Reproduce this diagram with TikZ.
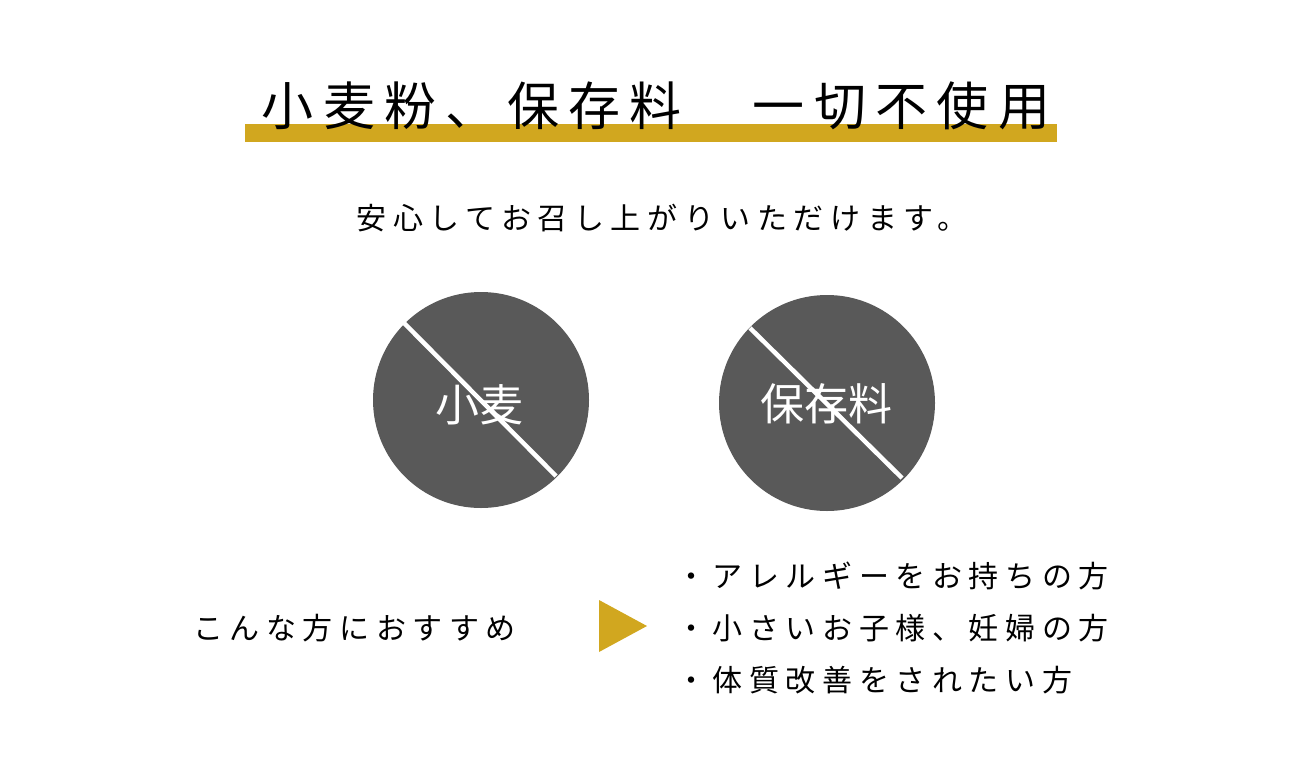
\documentclass[tikz,border=0pt]{standalone}
\usepackage{fontspec}
\usepackage{tikz}
\usetikzlibrary{positioning}
\newfontfamily\jpfont[LetterSpace=22]{Noto Sans CJK JP}
\newfontfamily\jptitle[LetterSpace=18]{Noto Sans CJK JP}
\newfontfamily\jpplain{Noto Sans CJK JP}
\definecolor{gold}{HTML}{D1A71F}
\definecolor{disc}{HTML}{595959}
\tikzset{
  banned/.style={circle, fill=disc, minimum size=216pt, inner sep=0pt},
  bantext/.style={text=white, font=\jpplain\fontsize{44}{48}\selectfont},
  slash/.style={white, line width=4.5pt},
  body/.style={font=\jpfont\fontsize{30}{34}\selectfont, inner sep=0pt}
}
\begin{document}
\begin{tikzpicture}[x=1pt, y=-1pt]
\useasboundingbox (0,0) rectangle (1308,768);
% heading
\fill[gold] (245,124) rectangle (1057,142);
\node[font=\jptitle\fontsize{52}{56}\selectfont, inner sep=0pt] (title) at (656,106) {小麦粉、保存料　一切不使用};
\node[body] (lead) at (662,218) {安心してお召し上がりいただけます。};
% wheat / preservative discs
\node[banned] (wheat) at (481,400) {};
\draw[slash] (404,323) -- (556,476);
\node[bantext] (wheatlbl) at (479,405) {小麦};
\node[banned] (pres) at (827,403) {};
\draw[slash] (750,328) -- (902,478);
\node[bantext] (preslbl) at (826,404) {保存料};
% recommendation
\node[body, anchor=west] (rec) at (193,628) {こんな方におすすめ};
\fill[gold] (599,600) -- (599,652) -- (647,626) -- cycle;
\node[body, anchor=west] (itema) at (676,576) {・アレルギーをお持ちの方};
\node[body, anchor=west] (itemb) at (676,628) {・小さいお子様、妊婦の方};
\node[body, anchor=west] (itemc) at (676,680) {・体質改善をされたい方};
\end{tikzpicture}
\end{document}
